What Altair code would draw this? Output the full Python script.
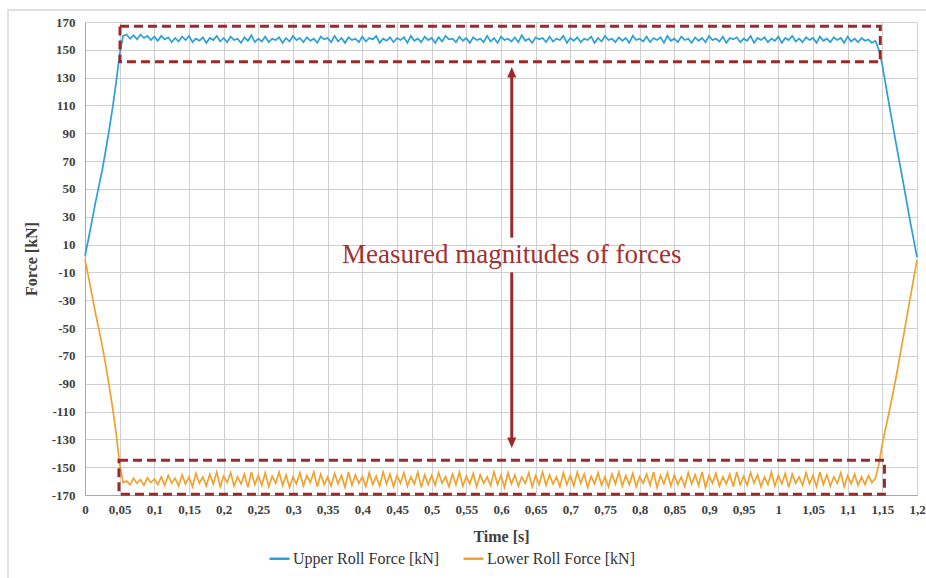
import altair as alt
import pandas as pd

# ---------------- data ----------------
t_start = [0, 0.005, 0.01, 0.015, 0.02, 0.025, 0.03, 0.035, 0.04, 0.045, 0.05, 0.055]
t_plateau = [
    0.06, 0.065, 0.07, 0.075, 0.08, 0.085, 0.09, 0.095, 0.10, 0.105, 0.11, 0.115, 0.12, 0.125, 0.13, 0.135, 0.14, 0.145, 0.15, 0.155,
    0.16, 0.165, 0.17, 0.175, 0.18, 0.185, 0.19, 0.195, 0.20, 0.205, 0.21, 0.215, 0.22, 0.225, 0.23, 0.235, 0.24, 0.245, 0.25, 0.255,
    0.26, 0.265, 0.27, 0.275, 0.28, 0.285, 0.29, 0.295, 0.30, 0.305, 0.31, 0.315, 0.32, 0.325, 0.33, 0.335, 0.34, 0.345, 0.35, 0.355,
    0.36, 0.365, 0.37, 0.375, 0.38, 0.385, 0.39, 0.395, 0.40, 0.405, 0.41, 0.415, 0.42, 0.425, 0.43, 0.435, 0.44, 0.445, 0.45, 0.455,
    0.46, 0.465, 0.47, 0.475, 0.48, 0.485, 0.49, 0.495, 0.50, 0.505, 0.51, 0.515, 0.52, 0.525, 0.53, 0.535, 0.54, 0.545, 0.55, 0.555,
    0.56, 0.565, 0.57, 0.575, 0.58, 0.585, 0.59, 0.595, 0.60, 0.605, 0.61, 0.615, 0.62, 0.625, 0.63, 0.635, 0.64, 0.645, 0.65, 0.655,
    0.66, 0.665, 0.67, 0.675, 0.68, 0.685, 0.69, 0.695, 0.70, 0.705, 0.71, 0.715, 0.72, 0.725, 0.73, 0.735, 0.74, 0.745, 0.75, 0.755,
    0.76, 0.765, 0.77, 0.775, 0.78, 0.785, 0.79, 0.795, 0.80, 0.805, 0.81, 0.815, 0.82, 0.825, 0.83, 0.835, 0.84, 0.845, 0.85, 0.855,
    0.86, 0.865, 0.87, 0.875, 0.88, 0.885, 0.89, 0.895, 0.90, 0.905, 0.91, 0.915, 0.92, 0.925, 0.93, 0.935, 0.94, 0.945, 0.95, 0.955,
    0.96, 0.965, 0.97, 0.975, 0.98, 0.985, 0.99, 0.995, 1.00, 1.005, 1.01, 1.015, 1.02, 1.025, 1.03, 1.035, 1.04, 1.045, 1.05, 1.055,
    1.06, 1.065, 1.07, 1.075, 1.08, 1.085, 1.09, 1.095, 1.10, 1.105, 1.11, 1.115, 1.12, 1.125, 1.13, 1.135, 1.14,
]
t_end = [1.145, 1.15, 1.16, 1.17, 1.18, 1.19, 1.2]

upper_start = [2, 14, 27, 40, 52, 64, 78, 93, 109, 127, 147, 160]
upper_plateau = [
    161, 158, 160.5, 157.5, 161, 158.5, 160, 157, 159.5, 156.5, 160, 157.5, 159, 155.5, 158.5, 156, 159.5, 157, 160, 155.5,
    158, 156.5, 159, 155, 158.5, 157, 160, 156, 158.5, 155.5, 159.5, 157, 158, 155, 159, 156.5, 160.5, 155.5, 158, 156,
    159.5, 155.5, 158, 157, 159, 155, 158.5, 156, 160, 157, 158.5, 155.5, 159, 156.5, 158, 155, 159.5, 157.5, 158.5, 155.5,
    160, 156, 158.5, 155, 159, 157, 158, 155.5, 159.5, 156, 158.5, 157.5, 160, 155, 158, 156.5, 159, 155.5, 158.5, 157,
    159, 155, 160, 156.5, 158, 155.5, 159.5, 157, 158.5, 155, 159, 156, 160, 157.5, 158, 155.5, 159.5, 156.5, 158.5, 155,
    159, 157, 158, 155.5, 160, 156, 158.5, 155, 159.5, 157, 158, 156, 159, 155.5, 160.5, 156.5, 158, 155, 159, 157.5,
    158.5, 155.5, 159.5, 156, 158, 157, 160, 155, 158.5, 156.5, 159, 155.5, 158, 157, 159.5, 155, 158.5, 156, 160, 157,
    158, 155.5, 159, 156.5, 158.5, 155, 160, 157, 158, 156, 159.5, 155.5, 158.5, 157, 159, 155, 160, 156.5, 158, 155.5,
    159.5, 157, 158, 155, 159, 156.5, 158.5, 155.5, 160, 157, 158, 156, 159.5, 155, 158.5, 157.5, 159, 155.5, 158, 156.5,
    160, 155, 158.5, 157, 159, 155.5, 158, 156.5, 159.5, 155, 158.5, 157, 160, 156, 158, 155.5, 159, 157, 158.5, 155,
    159.5, 156.5, 158, 155.5, 159, 157, 158.5, 155, 159.5, 156, 158, 155.5, 158.5, 156.5, 157.5, 155, 156.5,
]
upper_end = [150, 139, 110, 82, 55, 27, 1]

lower_start = [-1, -13, -26, -39, -51, -63, -77, -92, -108, -126, -148, -161]
lower_plateau = [
    -160, -162.5, -158, -161.5, -159, -163, -157.5, -161, -158.5, -162.5, -157, -163, -156, -161.5, -158, -163.5, -155.5, -162, -157, -164,
    -154.5, -161.5, -157, -163.5, -155, -162, -153.5, -164, -156.5, -161, -154, -163.5, -157, -162, -155, -164.5, -153.5, -162.5, -156, -163,
    -154, -164, -156.5, -161.5, -153.5, -163, -155.5, -164.5, -157, -162, -154, -163.5, -156, -161, -153.5, -164, -155, -162.5, -157, -163.5,
    -154.5, -162, -156, -164.5, -153.5, -163, -155.5, -161.5, -157, -164, -154, -162.5, -156.5, -163.5, -153.5, -162, -155, -164, -156, -161.5,
    -154, -163.5, -157, -162, -153.5, -164.5, -155.5, -162.5, -156, -163, -154, -161.5, -157, -164, -155, -162.5, -153.5, -163.5, -156.5, -162,
    -154.5, -164, -155.5, -161.5, -157, -163, -153.5, -162.5, -156, -164.5, -154, -162, -155.5, -163.5, -157, -161.5, -154, -164, -156, -162.5,
    -153.5, -163, -155.5, -162, -157, -164, -154, -162.5, -156, -163.5, -153.5, -161.5, -155, -164.5, -156.5, -162, -154, -163, -157, -164,
    -155, -162, -153.5, -163.5, -156, -162.5, -154.5, -164, -157, -161.5, -155, -163, -153.5, -164.5, -156, -162, -154, -163.5, -155.5, -162.5,
    -157, -164, -154, -162, -155.5, -163, -153.5, -164.5, -156, -161.5, -154.5, -163.5, -157, -162, -155, -164, -153.5, -162.5, -156.5, -163,
    -154, -161.5, -155.5, -164, -157, -162.5, -153.5, -163.5, -156, -162, -154.5, -164.5, -155, -161.5, -157, -163, -154, -162, -156, -164,
    -153.5, -162.5, -155.5, -163.5, -157, -161.5, -154, -164, -156, -162, -155, -163, -157, -162.5, -156, -161, -158,
]
lower_end = [-148, -133, -110, -85, -57, -29, -1]

series_names = ["Upper Roll Force [kN]", "Lower Roll Force [kN]"]
series_colors = ["#2a9fd8", "#f0a22e"]

x_ticks = [0, 0.05, 0.1, 0.15, 0.2, 0.25, 0.3, 0.35, 0.4, 0.45, 0.5, 0.55, 0.6,
           0.65, 0.7, 0.75, 0.8, 0.85, 0.9, 0.95, 1.0, 1.05, 1.1, 1.15, 1.2]
y_ticks = [-170, -150, -130, -110, -90, -70, -50, -30, -10, 10, 30, 50, 70, 90,
           110, 130, 150, 170]

# highlight boxes (time from, time to, force from, force to)
box_t1 = [0.0505, 0.049]
box_t2 = [1.147, 1.153]
box_f1 = [141.5, -145]
box_f2 = [167, -169.5]

arrow_t = 0.6155
arrow_top = 137.6
arrow_bottom = -136.2
arrow_gap_top = 15
arrow_gap_bottom = -10
annotation = "Measured magnitudes of forces"
annotation_f = 2.5

# ---------------- tables ----------------
times = t_start + t_plateau + t_end
upper = upper_start + upper_plateau + upper_end
lower = lower_start + lower_plateau + lower_end
df = pd.concat([
    pd.DataFrame({"t": times, "f": upper, "s": series_names[0], "o": range(len(times))}),
    pd.DataFrame({"t": times, "f": lower, "s": series_names[1], "o": range(len(times))}),
])
boxes = pd.DataFrame({"t1": box_t1, "t2": box_t2, "f1": box_f1, "f2": box_f2})
seg = pd.DataFrame({"t": [arrow_t, arrow_t], "f1": [arrow_top - 5, arrow_gap_bottom],
                    "f2": [arrow_gap_top, arrow_bottom + 5]})
head_up_df = pd.DataFrame({"t": [arrow_t], "f": [arrow_top]})
head_down_df = pd.DataFrame({"t": [arrow_t], "f": [arrow_bottom]})
txt = pd.DataFrame({"t": [arrow_t], "f": [annotation_f], "label": [annotation]})

SERIF = "Liberation Serif"
RED = "#9c2a2a"

xscale = alt.Scale(domain=[0, 1.2], nice=False, zero=False)
yscale = alt.Scale(domain=[-170, 170], nice=False, zero=False)

x_axis = alt.Axis(values=x_ticks, tickCount=40, format=".2~f",
                  labelExpr="replace(datum.label, '.', ',')",
                  title="Time [s]", grid=True, gridColor="#cfcfcf", domainColor="#a8a8a8",
                  ticks=False, labelPadding=8, labelFont=SERIF, labelFontSize=13,
                  labelFontWeight="bold", labelColor="#404040", titleFont=SERIF,
                  titleFontSize=16, titleFontWeight="bold", titleColor="#404040",
                  titlePadding=12, labelFlush=False, labelOverlap=False)
y_axis = alt.Axis(values=y_ticks, tickCount=40, labelExpr="'' + datum.value",
                  title="Force [kN]", grid=True, gridColor="#cfcfcf",
                  domainColor="#a8a8a8", ticks=False, labelPadding=10, labelFont=SERIF,
                  labelFontSize=13, labelFontWeight="bold", labelColor="#404040",
                  titleFont=SERIF, titleFontSize=16, titleFontWeight="bold",
                  titleColor="#404040", titlePadding=12, labelOverlap=False)

frame = alt.Chart(pd.DataFrame({"a": [0]})).mark_rect(
    fill=None, stroke="#d8d8d8", strokeWidth=1.5
).encode(x=alt.value(-77), x2=alt.value(860), y=alt.value(-12), y2=alt.value(580))

lines = alt.Chart(df).mark_line(strokeWidth=1.7).encode(
    x=alt.X("t:Q", scale=xscale, axis=x_axis),
    y=alt.Y("f:Q", scale=yscale, axis=y_axis),
    color=alt.Color("s:N", scale=alt.Scale(domain=series_names, range=series_colors),
                    legend=alt.Legend(title=None, orient="none", legendX=183, legendY=525,
                                      direction="horizontal", symbolType="stroke",
                                      symbolSize=400, symbolStrokeWidth=2.5,
                                      labelFont=SERIF, labelFontSize=16, labelColor="#333333",
                                      labelOffset=2, columnPadding=18)),
    order="o:Q",
    detail="s:N",
)

rects = alt.Chart(boxes).mark_rect(fill=None, stroke=RED, strokeWidth=3,
                                   strokeDash=[9, 5]).encode(
    x="t1:Q", x2="t2:Q", y="f1:Q", y2="f2:Q")

rules = alt.Chart(seg).mark_rule(color=RED, strokeWidth=3).encode(
    x="t:Q", y="f1:Q", y2="f2:Q")

head_up = alt.Chart(head_up_df).mark_point(
    shape="M0,0L-0.65,1.5L0.65,1.5Z", size=196, filled=True, color=RED, opacity=1
).encode(x="t:Q", y="f:Q")
head_down = alt.Chart(head_down_df).mark_point(
    shape="M0,0L-0.65,-1.5L0.65,-1.5Z", size=196, filled=True, color=RED, opacity=1
).encode(x="t:Q", y="f:Q")

label = alt.Chart(txt).mark_text(font=SERIF, fontSize=27, color="#a03232",
                                 align="center", baseline="middle").encode(
    x="t:Q", y="f:Q", text="label:N")

chart = alt.layer(frame, lines, rects, rules, head_up, head_down, label).properties(
    width=832, height=473,
    autosize=alt.AutoSizeParams(type="none"),
    padding={"left": 85, "top": 22, "right": 9, "bottom": 83},
    background="white",
).configure_view(stroke=None)

chart.save("out.html", embed_options={"renderer": "svg", "actions": False})
